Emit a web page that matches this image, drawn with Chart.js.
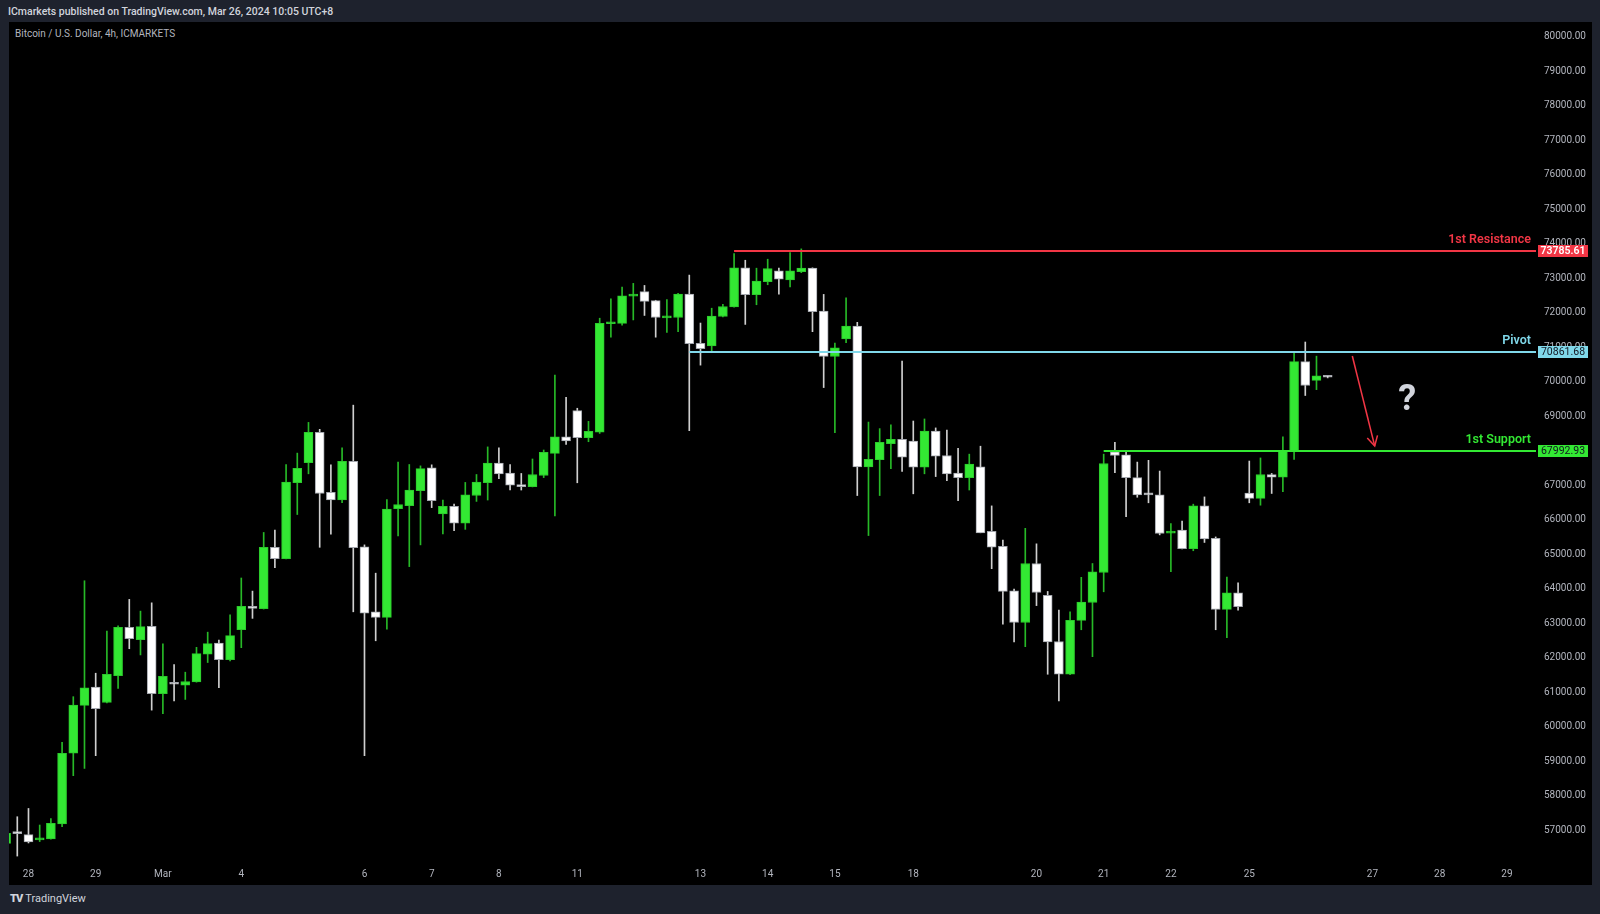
<!DOCTYPE html>
<html><head><meta charset="utf-8">
<script src="https://cdn.jsdelivr.net/npm/chart.js@4.4.1/dist/chart.umd.min.js"></script>
<style>
html,body{margin:0;padding:0;background:#1e222d;width:1600px;height:914px;overflow:hidden;font-family:Roboto,"Noto Sans",sans-serif}
#panel{position:absolute;left:9px;top:22px;width:1583px;height:863px;background:#000}
#hdr{position:absolute;left:8px;top:5px;color:#d1d4dc;font:500 10.5px Roboto;white-space:nowrap}
#title{position:absolute;left:15px;top:28px;color:#b2b5be;font:400 10px Roboto;white-space:nowrap}
#tv{position:absolute;left:10px;top:892px;color:#d1d4dc;font:400 11px Roboto;white-space:nowrap}
#tv b{font:900 11px Roboto;letter-spacing:-1px;margin-right:3px}
#wrap{position:absolute;left:0;top:0;width:1600px;height:914px}
</style></head>
<body>
<div id="panel"></div>
<div id="hdr">ICmarkets published on TradingView.com, Mar 26, 2024 10:05 UTC+8</div>
<div id="title">Bitcoin / U.S. Dollar, 4h, ICMARKETS</div>
<div id="tv"><b>TV</b>TradingView</div>
<div id="wrap"><canvas id="c" width="1600" height="914"></canvas></div>
<script>
// ---- data (4h candles, index = bar number) ----
const opens  = [56620,56920,56870,56720,56750,57180,59230,60620,61150,60700,61480,62880,62520,62910,60960,61260,61200,61300,62100,62420,61940,62810,63480,63420,65200,64870,67070,67650,68530,66790,66570,67690,65210,63330,63170,66320,66410,66840,67500,66170,66390,65900,66700,67070,67640,67350,67020,66960,67280,67920,68400,69160,68380,68540,71680,71690,72480,72610,72350,71850,71860,72540,71110,71040,71890,72170,73300,72520,72900,73210,72950,73190,73290,72050,70730,71240,71610,67530,67740,68200,68330,68280,67520,68570,67860,67350,67220,67530,65660,65230,63940,63020,64730,63810,62470,61520,63080,63600,64470,67970,67880,67220,66750,66720,65610,65700,65160,66400,65460,63400,63880,66770,66620,67310,67230,67990,70580,70040,70170];
const highs  = [56960,57390,57630,57150,57340,59550,60870,64230,61550,62770,62920,63690,63350,63590,62400,61800,61580,62300,62740,62510,63240,64310,63930,65630,65700,67600,67930,68820,68620,67590,68080,69320,65270,64450,66580,67670,67600,67560,67590,66570,66450,67080,67310,68110,68080,67600,67340,67760,68020,70190,69550,69230,68850,71840,72400,72740,72850,72790,72360,72380,72560,73090,71700,72130,72240,73710,73520,73290,73550,73290,73740,73850,73300,72530,71120,72430,71720,68830,68640,68750,70600,68860,68920,68660,68600,68070,67900,68130,66400,65410,63990,65750,65300,63920,63380,63330,64330,64730,67900,68240,67960,67670,67720,67410,65890,65960,66450,66660,65500,64340,64170,67700,67790,67340,68400,70860,71150,70740,70180];
const lows   = [56580,56250,56630,56670,56740,57100,58580,58790,59160,60690,61110,62260,62080,60480,60380,60750,60790,61290,61860,61130,61910,62290,63140,63410,64610,64860,66150,67330,65200,65580,66490,63330,59160,62490,62830,65530,64640,65270,66350,65590,65680,65720,66530,66570,67190,66860,66860,66950,67220,66110,68180,67070,68260,68500,71290,71640,71790,71920,71290,71430,71450,68580,70480,70880,71880,72160,71660,72230,72810,72540,72750,73160,71450,69830,68520,71130,66700,65540,66700,67480,67400,66750,67330,67250,67130,66550,66860,65620,64580,62970,62460,62320,63510,61520,60750,61510,62810,62030,63910,67360,66090,66650,66490,65560,64490,65150,65100,65340,62810,62580,63380,66490,66420,66760,66810,67750,69600,69770,70110];
const closes = [56910,56900,56660,56770,57200,59230,60630,61130,60520,61520,62880,62550,62900,60960,61460,61230,61310,62120,62410,61940,62640,63490,63430,65200,64870,67090,67490,68530,66760,66570,67690,65190,63290,63170,66310,66440,66860,67480,66550,66390,65900,66720,67090,67640,67330,67000,66960,67310,67950,68400,68280,68380,68560,71690,71720,72490,72540,72330,71860,71880,72540,71100,70960,71900,72180,73300,72520,72920,73280,72970,73210,73290,72030,70730,70980,71610,67530,67750,68240,68330,67810,67520,68570,67840,67330,67220,67610,65620,65200,63920,63020,64730,63890,62460,61520,63080,63610,64490,67630,67860,67220,66720,66720,65600,65670,65160,66400,65440,63400,63880,63480,66620,67310,67230,67990,70580,69890,70170,70130];
const dayTickIdx = [2,8,14,21,32,38,44,51,62,68,74,81,92,98,104,111,122,128,134];
const dayTickLbl = ['28','29','Mar','4','6','7','8','11','13','14','15','18','20','21','22','25','27','28','29'];
const priceTicks = [57000,58000,59000,60000,61000,62000,63000,64000,65000,66000,67000,68000,69000,70000,71000,72000,73000,74000,75000,76000,77000,78000,79000,80000];
const levelNames  = ['1st Resistance','Pivot','1st Support'];
const levelValues = [73785.61, 70861.68, 67992.93];
const levelStart  = [65, 61, 98];
const arrowFrom = [120.2, 70745];
const arrowTo   = [122.2, 68136];
const questionAt = [125.1, 69430];

// ---- styles ----
const GREEN='#33e833', GREEN_B='#2cc92c', GREEN_W='#27b927';
const WHITE='#ffffff', WHITE_B='#a3a6ad', WHITE_W='#cfcfcf';
const levelColors = ['#f23645','#80d8ea','#33e833'];
const levelText   = ['#ffffff','#131722','#131722'];

const up = closes.map((c,i)=>c>=opens[i]);

const overlay = {
  id:'overlay',
  afterDatasetsDraw(chart){
    const {ctx, chartArea:a, scales:{x,y}} = chart;
    ctx.save();
    levelValues.forEach((v,k)=>{
      const py = Math.round(y.getPixelForValue(v));
      ctx.strokeStyle = levelColors[k]; ctx.lineWidth = 2;
      ctx.beginPath(); ctx.moveTo(x.getPixelForValue(levelStart[k]), py); ctx.lineTo(a.right, py); ctx.stroke();
      ctx.fillStyle = levelColors[k];
      ctx.font = '600 12.5px Roboto'; ctx.textAlign='right'; ctx.textBaseline='middle';
      ctx.fillText(levelNames[k], a.right-5, py-11);
    });
    // arrow
    const x1=x.getPixelForValue(arrowFrom[0]), y1=y.getPixelForValue(arrowFrom[1]);
    const x2=x.getPixelForValue(arrowTo[0]), y2=y.getPixelForValue(arrowTo[1]);
    ctx.strokeStyle='#f23645'; ctx.lineWidth=1.5;
    ctx.beginPath(); ctx.moveTo(x1,y1); ctx.lineTo(x2,y2); ctx.stroke();
    const ang=Math.atan2(y2-y1,x2-x1), L=11, sp=0.5;
    ctx.beginPath();
    ctx.moveTo(x2-L*Math.cos(ang-sp), y2-L*Math.sin(ang-sp));
    ctx.lineTo(x2,y2);
    ctx.lineTo(x2-L*Math.cos(ang+sp), y2-L*Math.sin(ang+sp));
    ctx.stroke();
    // question mark
    ctx.fillStyle='#d1d4dc'; ctx.font='700 36px Roboto'; ctx.textAlign='center'; ctx.textBaseline='middle';
    ctx.fillText('?', x.getPixelForValue(questionAt[0]), y.getPixelForValue(questionAt[1]));
    ctx.restore();
  },
  afterDraw(chart){
    const {ctx, chartArea:a, scales:{y}} = chart;
    ctx.save();
    levelValues.forEach((v,k)=>{
      const py = Math.round(y.getPixelForValue(v));
      ctx.fillStyle = levelColors[k];
      ctx.fillRect(a.right+2, py-6, 50, 12);
      ctx.fillStyle = levelText[k];
      ctx.font = (k===0?'600 ':'400 ')+'10.5px Roboto'; ctx.textAlign='center'; ctx.textBaseline='middle';
      ctx.fillText(v.toFixed(2), a.right+27, py+0.5);
    });
    ctx.restore();
  }
};

new Chart(document.getElementById('c'), {
  type:'bar',
  data:{datasets:[
    {label:'body', data: opens.map((o,i)=>({x:i, y:[o, closes[i]]})),
     backgroundColor: up.map(u=>u?GREEN:WHITE), borderColor: up.map(u=>u?GREEN_B:WHITE_B),
     borderWidth:1, borderSkipped:false, barThickness:9, minBarLength:2, grouped:false, order:0},
    {label:'wick', data: lows.map((l,i)=>({x:i, y:[l, highs[i]]})),
     backgroundColor: up.map(u=>u?GREEN_W:WHITE_W), borderWidth:0, barThickness:1, grouped:false, order:1}
  ]},
  options:{
    responsive:false, animation:false,
    layout:{padding:{left:9, top:22, right:8, bottom:29}},
    plugins:{legend:{display:false}, tooltip:{enabled:false}},
    scales:{
      x:{type:'linear', min:0.26, max:136.6, offset:false,
         grid:{display:false, drawTicks:false}, border:{display:false},
         afterBuildTicks:s=>{ s.ticks = dayTickIdx.map(v=>({value:v})); },
         afterFit:s=>{ s.height = 23; },
         ticks:{autoSkip:false, maxRotation:0, padding:6, color:'#b2b5be', font:{family:'Roboto', size:10},
           callback:(v)=>{ const k=dayTickIdx.indexOf(v); return k>=0?dayTickLbl[k]:''; }}},
      y:{type:'linear', position:'right', min:56078, max:80426,
         grid:{display:false, drawTicks:false}, border:{display:false},
         afterBuildTicks:s=>{ s.ticks = priceTicks.map(v=>({value:v})); },
         afterFit:s=>{ s.width = 56; },
         ticks:{autoSkip:false, padding:8, color:'#b2b5be', font:{family:'Roboto', size:10},
           callback:v=>Number(v).toFixed(2)}}
    }
  },
  plugins:[overlay]
});
</script>
</body></html>
